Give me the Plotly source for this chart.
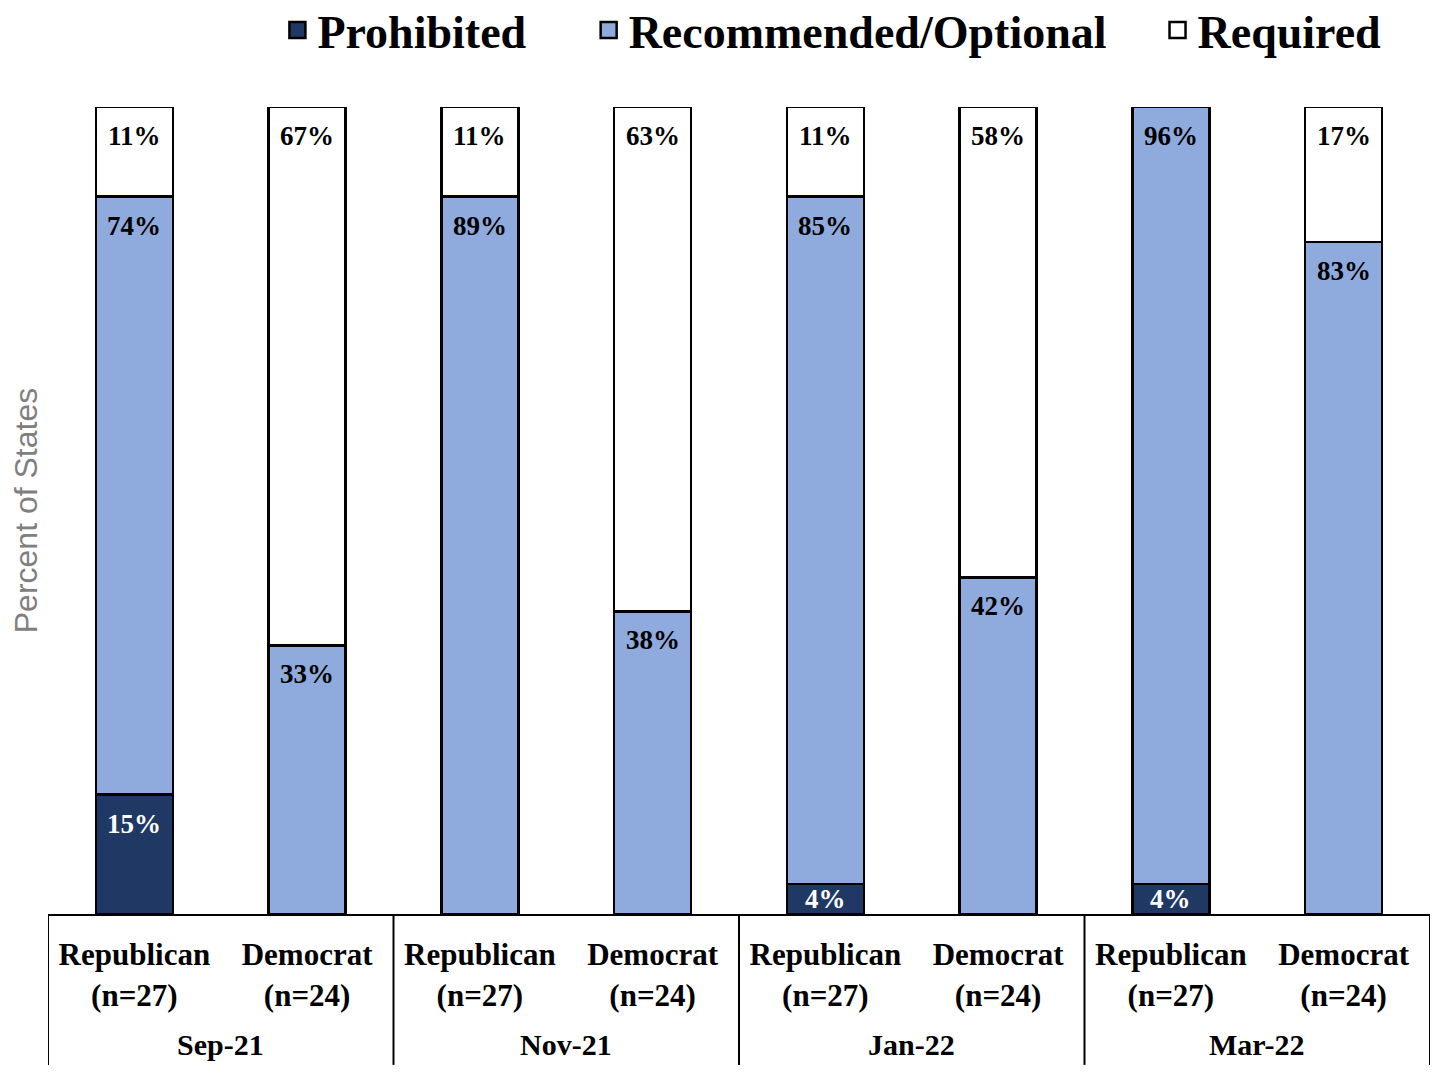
import plotly.graph_objects as go

# ---- data ----
months = ["Sep-21", "Nov-21", "Jan-22", "Mar-22"]
parties = ["Republican<br>(n=27)", "Democrat<br>(n=24)"]
bar_labels = [p for m in months for p in parties]

prohibited = [14.8, 0, 0, 0, 3.7, 0, 3.7, 0]
recommended = [74.1, 33.3, 88.9, 37.5, 85.2, 41.7, 96.3, 83.3]
required = [11.1, 66.7, 11.1, 62.5, 11.1, 58.3, 0, 16.7]

series_names = ["Prohibited", "Recommended/Optional", "Required"]
series_values = [prohibited, recommended, required]
series_colors = ["#203864", "#8faadc", "#ffffff"]
label_colors = ["#ffffff", "#000000", "#000000"]

SERIF = "Liberation Serif"
xpos = list(range(len(bar_labels)))
W, H = 1434, 1077  # page body has an 8px margin

fig = go.Figure()
for name, vals, col in zip(series_names, series_values, series_colors):
    fig.add_trace(go.Bar(
        x=xpos, y=vals, name=name, width=0.445,
        marker=dict(color=col, line=dict(color="#000000", width=2.5)),
        showlegend=False, hoverinfo="skip",
    ))

# legend entries (square swatches)
pads = ["\u00a0" * 5, "\u00a0" * 4, ""]
for name, col, pad in zip(series_names, series_colors, pads):
    fig.add_trace(go.Scatter(
        x=[None], y=[None], mode="markers", name=name + pad,
        marker=dict(symbol="square", size=16, color=col,
                    line=dict(color="#000000", width=2.5)),
    ))

# data labels
annotations = []
base = [0.0] * len(bar_labels)
for vals, tcol in zip(series_values, label_colors):
    for i, v in enumerate(vals):
        if v > 0:
            txt = f"{int(v + 0.5)}%"
            top = base[i] + v
            if v < 8:
                annotations.append(dict(x=xpos[i], y=base[i] + v / 2, xref="x", yref="y",
                                        text=txt, showarrow=False, yanchor="middle",
                                        font=dict(family=SERIF, size=27, color=tcol, weight="bold")))
            else:
                annotations.append(dict(x=xpos[i], y=top, xref="x", yref="y",
                                        text=txt, showarrow=False, yanchor="top", yshift=-12,
                                        font=dict(family=SERIF, size=27, color=tcol, weight="bold")))
        base[i] += v

# month group labels and dividers
shapes = []
for j, m in enumerate(months):
    annotations.append(dict(x=2 * j + 0.5, y=-0.162, xref="x", yref="paper", text=m,
                            showarrow=False, yanchor="middle",
                            font=dict(family=SERIF, size=30, color="#000000", weight="bold")))
for j in range(len(months) + 1):
    shapes.append(dict(type="line", xref="x", yref="paper", x0=2 * j - 0.5, x1=2 * j - 0.5,
                       y0=0, y1=-0.187, line=dict(color="#000000", width=2)))

fig.update_layout(
    width=W, height=H,
    margin=dict(l=40, r=12, t=99, b=171),
    paper_bgcolor="#ffffff", plot_bgcolor="#ffffff",
    barmode="stack",
    annotations=annotations, shapes=shapes,
    legend=dict(orientation="h", traceorder="normal",
                x=0.166, xanchor="left", xref="paper",
                y=1 - 22 / H, yanchor="middle", yref="container",
                font=dict(family=SERIF, size=46, color="#000000", weight="bold"),
                bgcolor="rgba(0,0,0,0)", itemclick=False, itemdoubleclick=False),
    xaxis=dict(range=[-0.5, 7.5], tickmode="array", tickvals=xpos, ticktext=bar_labels,
               showline=True, linecolor="#000000", linewidth=2, showgrid=False,
               zeroline=False, ticks="", ticklabelstandoff=12,
               tickfont=dict(family=SERIF, size=31, color="#000000", weight="bold")),
    yaxis=dict(range=[0, 100], showticklabels=False, showgrid=False, zeroline=False,
               showline=False, ticks="",
               title=dict(text="Percent of States", standoff=6,
                          font=dict(family="Liberation Sans", size=32, color="#7f7f7f"))),
)

fig.write_html("out.html")
